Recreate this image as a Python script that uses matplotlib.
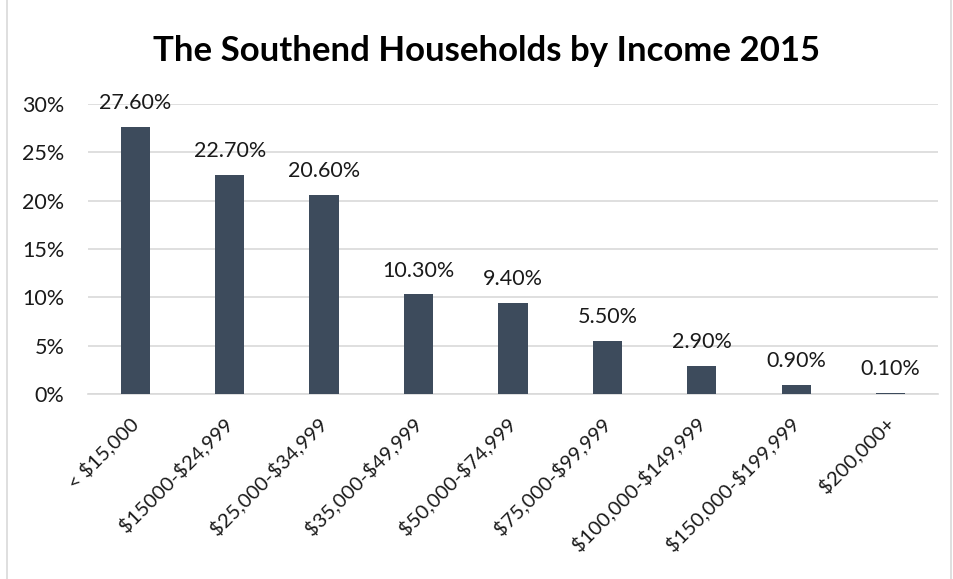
import numpy as np
import matplotlib.pyplot as plt
from matplotlib.patches import Rectangle

plt.rcParams['font.family'] = ['Lato', 'DejaVu Sans']
plt.rcParams['text.parse_math'] = False

categories = ['< $15,000', '$15000-$24,999', '$25,000-$34,999', '$35,000-$49,999',
              '$50,000-$74,999', '$75,000-$99,999', '$100,000-$149,999',
              '$150,000-$199,999', '$200,000+']
shares = [27.6, 22.7, 20.6, 10.3, 9.4, 5.5, 2.9, 0.9, 0.1]
yticks = [0, 5, 10, 15, 20, 25, 30]

bar_color = '#3d4b5c'
text_color = '#1a1a1a'

fig = plt.figure(figsize=(9.54, 5.79), dpi=100)
ax = fig.add_axes([0.0922, 0.3195, 0.891, 0.5009])

x = np.arange(len(categories))
ax.bar(x, shares, width=0.31, color=bar_color, zorder=3)

for xi, v in zip(x, shares):
    ax.annotate(f'{v:.2f}%', (xi, v), xytext=(0, 10), textcoords='offset points',
                ha='center', va='bottom', fontsize=15.5, color=text_color)

ax.set_xlim(-0.5, len(categories) - 0.5)
ax.set_ylim(0, 30)
ax.set_yticks(yticks)
ax.set_yticklabels([f'{t}%' for t in yticks], fontsize=15.5, color=text_color)
ax.yaxis.grid(True, color='#d9d9d9', linewidth=1.2, zorder=0)
ax.tick_params(axis='both', length=0)
ax.tick_params(axis='y', pad=17)

ax.set_xticks(x)
ax.set_xticklabels(categories, rotation=45, ha='right', va='center',
                   rotation_mode='anchor', fontsize=14.5, color=text_color)
ax.tick_params(axis='x', pad=19)

for side in ['top', 'right', 'left']:
    ax.spines[side].set_visible(False)
ax.spines['bottom'].set_color('#d9d9d9')
ax.spines['bottom'].set_linewidth(1.2)

fig.text(0.5095, 0.912, 'The Southend Households by Income 2015', ha='center', va='center',
         fontsize=25, fontweight='bold', color='#000000')

# thin frame round the chart area
fig.patches.append(Rectangle((0.007, -0.01), 0.99, 1.02, transform=fig.transFigure,
                             fill=False, edgecolor='#d9d9d9', linewidth=1.2))

fig.savefig('out.png', dpi=100)
